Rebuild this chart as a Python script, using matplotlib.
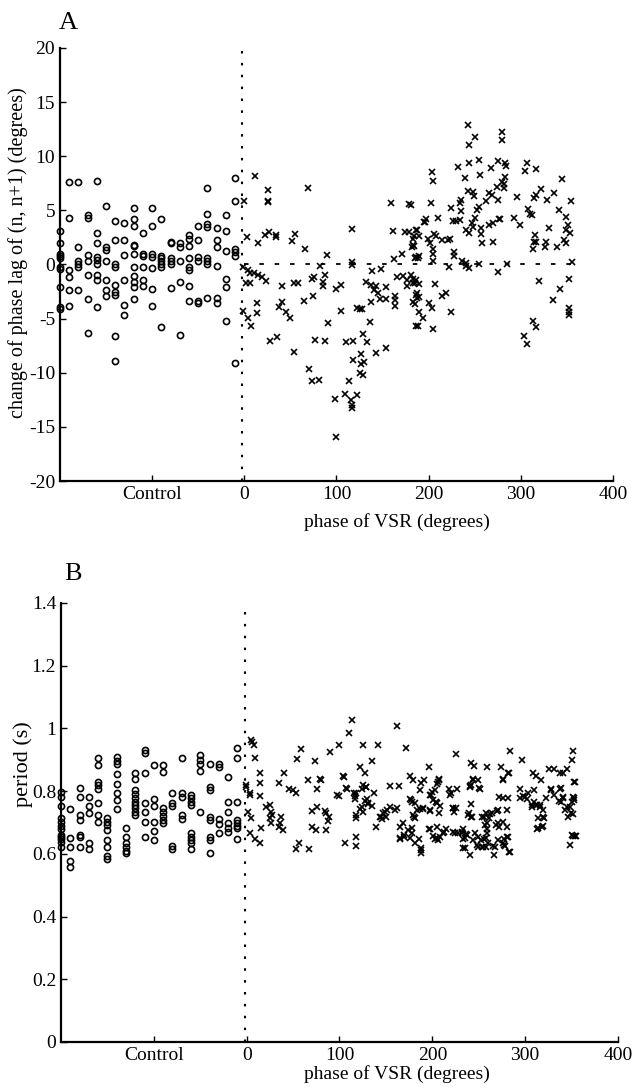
import matplotlib
matplotlib.use('Agg')
import matplotlib.pyplot as plt
import numpy as np

"""
Phase lag change (A) and period (B) against phase of VSR, with control cycles on the left
"""

# ---- panel A: control cycles (circles), x is just a column position left of 0
ctrlA = [(-190,7.6),(-180,7.6),(-160,7.7),(-40,7.1),(-10,8.0),(-10,5.9),(-150,5.4),(-120,5.2),(-100,5.2),
         (-190,4.3),(-170,4.6),(-170,4.3),(-140,4.0),(-130,3.8),(-120,4.2),(-120,3.6),(-100,3.6),(-90,4.2),
         (-40,4.7),(-20,4.6),(-50,3.6),(-40,3.7),(-40,3.5),(-30,3.4),(-20,3.1),(-200,3.1),(-160,2.9),(-110,2.9),
         (-200,2.0),(-180,1.6),(-160,2.0),(-150,1.6),(-150,1.3),(-140,2.3),(-130,2.3),(-120,1.8),(-120,1.7),
         (-80,2.1),(-80,2.0),(-70,2.0),(-70,1.6),(-60,2.7),(-60,2.4),(-60,1.7),(-50,2.3),(-30,2.3),(-30,1.6),
         (-20,1.25),(-10,1.4),(-10,1.2),(-10,0.8),(-200,1.0),(-200,0.8),(-200,0.6),(-170,0.9),(-160,0.65),
         (-160,0.4),(-130,0.9),(-120,1.0),(-110,1.0),(-110,0.8),(-100,1.0),(-100,0.65),(-90,0.8),(-90,0.6),
         (-90,0.3),(-90,0.05),(-90,-0.2),(-80,0.6),(-80,0.3),(-80,0.0),(-70,0.35),(-60,0.6),(-60,-0.2),
         (-60,-0.5),(-50,0.65),(-50,0.35),(-40,0.6),(-40,0.3),(-40,0.05),(-30,-0.15),(-200,-0.2),(-200,-0.45),
         (-190,-0.5),(-190,-1.2),(-180,0.35),(-180,0.05),(-180,-0.2),(-170,0.3),(-160,0.05),(-150,0.3),
         (-140,0.05),(-140,-0.2),(-120,-0.2),(-110,-0.2),(-100,-0.35),(-170,-1.0),(-160,-0.95),(-160,-1.4),
         (-150,-1.45),(-130,-1.4),(-120,-1.05),(-120,-1.65),(-120,-2.05),(-110,-1.4),(-110,-1.95),(-80,-2.2),
         (-70,-1.65),(-60,-2.0),(-20,-1.3),(-20,-2.1),(-200,-2.05),(-190,-2.4),(-180,-2.4),(-170,-3.2),
         (-150,-2.35),(-150,-2.9),(-140,-1.9),(-140,-2.5),(-140,-2.8),(-120,-3.2),(-100,-2.25),(-40,-3.05),
         (-50,-3.4),(-50,-3.6),(-60,-3.4),(-30,-3.05),(-30,-3.6),(-200,-3.9),(-200,-4.1),(-190,-3.8),
         (-160,-3.9),(-130,-3.75),(-100,-3.85),(-130,-4.7),(-20,-5.2),(-170,-6.3),(-140,-6.6),(-90,-5.75),
         (-70,-6.5),(-140,-8.9),(-10,-9.1)]

# ---- panel A: VSR cycles (crosses)
vsrA = [(12,8.2),(26,6.9),(69,7.1),(0,5.9),(26,5.9),(26,5.8),(159,5.65),(179,5.55),(3,2.5),(15,1.95),
        (22,2.7),(27,3.0),(34,2.7),(34,2.5),(52,2.2),(55,2.8),(66,1.4),(117,3.3),(161,3.1),(174,3.0),
        (179,3.0),(186,3.2),(184,2.6),(183,1.8),(182,1.6),(89.5,0.9),(82,-0.15),(117,0.2),(117,-0.05),
        (148.5,-0.4),(139,-0.6),(162,0.48),(171,0.95),(186,0.65),(-1,-0.2),(4,-0.5),(6,-0.8),(11,-0.8),
        (14.5,-0.95),(19,-1.2),(23,-1.5),(2,-1.75),(6,-1.75),(40.5,-1.95),(54,-1.75),(58,-1.75),(73,-1.3),
        (76,-1.2),(88,-1.0),(85,-1.65),(85,-1.95),(100,-2.25),(105,-1.9),(132,-1.6),(138,-1.9),(143,-2.0),
        (141,-2.4),(145,-2.6),(154,-2.05),(166,-1.2),(172,-1.05),(176,-1.45),(177,-2.0),(183,-1.75),
        (186,-1.4),(186,-2.8),(190,-3.0),(147,-3.2),(154,-3.2),(164,-2.95),(164,-3.3),(164,-3.85),
        (185,-3.65),(138,-3.5),(122,-4.05),(126,-4.1),(128,-4.1),(104.5,-4.25),(65,-3.4),(74,-2.95),
        (-1,-4.25),(4,-4.9),(13.5,-3.6),(13.5,-4.45),(7,-5.7),(38,-3.9),(41,-3.5),(45,-4.35),(50,-4.97),
        (90.5,-5.4),(136,-5.35),(186,-5.65),(28,-7.1),(36,-6.7),(54,-8.1),(77,-7.0),(88,-7.1),(110,-7.2),
        (118,-7.05),(129,-6.4),(133,-7.2),(143,-8.2),(154,-7.7),(118,-8.8),(127,-8.3),(130,-9.0),
        (127,-9.2),(125,-10.0),(128.5,-10.2),(70,-9.65),(73.5,-10.8),(81,-10.7),(114,-10.8),(98,-12.4),
        (109,-12.0),(122,-12.1),(116,-12.5),(117,-13.0),(117,-13.3),(99,-15.9),
        (243,12.9),(250,11.8),(244,11.0),(280,12.2),(280,11.5),(232,9.0),(244,9.35),(255,9.65),(275,9.6),
        (283,9.35),(284,9.1),(267.5,8.95),(307,9.4),(305,8.6),(317,8.8),(345,7.9),(204,8.5),(205,7.75),
        (239.5,7.95),(255.5,8.3),(283,8.1),(282,7.4),(282,7.1),(280,7.6),(274,7.2),(266,6.6),(269,6.4),
        (275,6.0),(243,6.8),(248,6.7),(249,6.3),(235,6.0),(234,5.7),(224,5.2),(255,5.35),(253,5.0),
        (262,5.9),(203,5.7),(181,5.5),(296,6.2),(314,6.1),(317,6.4),(321.5,7.0),(328,5.95),(336,6.6),
        (354,5.9),(308,5.1),(310,4.7),(312,4.6),(341,5.05),(349,4.4),(197,4.2),(195,3.9),(196,3.95),
        (210,4.3),(226,4.0),(230,4.0),(234,4.1),(235,4.9),(247,3.8),(250,4.3),(248,3.5),(257,3.35),
        (266,3.65),(270,3.8),(276,4.2),(277,4.2),(293,4.3),(299,3.65),(331,3.35),(351,3.65),(353,2.9),
        (349,3.2),(187,3.2),(189,2.6),(183,2.4),(184,1.7),(199,2.4),(202,2.0),(206,2.8),(208,2.6),
        (215,2.3),(221,2.3),(223,2.4),(241,3.2),(244,2.9),(257,2.8),(258,2.0),(270,2.1),(315,2.7),
        (314,2.1),(317,2.1),(327.5,2.1),(313,1.4),(326,1.6),(339,1.6),(347,2.3),(349,2.0),(205,1.4),
        (205,1.0),(205,0.3),(190,0.8),(185,0.6),(188,0.6),(227,1.2),(227,0.8),(222,-0.2),(236,0.3),
        (240,0.1),(241,-0.1),(244,-0.35),(255,0.05),(285.5,0.05),(275.5,-0.7),(355,0.25),(181,-0.95),
        (183,-1.3),(185,-1.75),(190,-1.8),(187,-2.65),(187,-3.1),(183,-3.5),(207,-1.8),(200,-3.6),
        (203.5,-4.05),(190,-4.35),(194,-4.9),(214,-2.95),(219,-2.6),(224,-4.35),(188,-5.7),(205,-5.95),
        (320,-1.5),(352,-1.35),(342,-2.25),(335,-3.25),(352,-4.05),(352,-4.35),(352,-4.65),(313,-5.2),
        (316,-5.75),(304,-6.65),(307,-7.3)]

# ---- panel B: control periods, by column
ctrl_cols = [-200,-190,-180,-170,-160,-150,-140,-130,-120,-110,-100,-90,-80,-70,-60,-50,-40,-30,-20,-10]
ctrl_periods = [
    [0.798,0.782,0.753,0.713,0.703,0.689,0.678,0.660,0.655,0.646,0.639,0.621],
    [0.742,0.649,0.621,0.578,0.559],
    [0.811,0.782,0.724,0.708,0.660,0.653,0.621],
    [0.782,0.753,0.731,0.633,0.614],
    [0.905,0.883,0.830,0.819,0.806,0.763,0.724,0.703],
    [0.713,0.703,0.692,0.676,0.644,0.621,0.593,0.582],
    [0.908,0.897,0.886,0.855,0.823,0.795,0.772,0.742],
    [0.681,0.653,0.633,0.623,0.610,0.602],
    [0.857,0.838,0.804,0.791,0.777,0.766,0.756,0.745,0.734,0.724],
    [0.931,0.923,0.857,0.763,0.734,0.703,0.653],
    [0.883,0.774,0.753,0.703,0.674,0.644],
    [0.883,0.862,0.745,0.734,0.721,0.708,0.697],
    [0.793,0.763,0.753,0.625,0.614],
    [0.905,0.793,0.782,0.724,0.710],
    [0.788,0.777,0.766,0.756,0.665,0.655,0.644,0.633,0.614],
    [0.915,0.899,0.886,0.865,0.734],
    [0.886,0.814,0.804,0.718,0.708,0.655,0.644,0.604],
    [0.886,0.876,0.710,0.695,0.665],
    [0.846,0.766,0.734,0.699,0.681,0.671],
    [0.936,0.905,0.766,0.708,0.699,0.689,0.681,0.646]]

# ---- panel B: VSR periods (crosses)
vsrB = [(5,0.963),(6,0.958),(7.5,0.947),(8.6,0.905),(113.5,1.027),(110,0.986),(162,1.008),(58,0.934),
        (54.6,0.904),(90,0.926),(100,0.947),(125.5,0.947),(142,0.947),(172,0.939),(74,0.896),(135.5,0.897),
        (225,0.918),(284,0.928),(297,0.899),(351,0.929),(350,0.899),(196,0.878),(242,0.889),(245,0.880),
        (259,0.878),(274.5,0.878),(122,0.878),(127,0.857),(282,0.857),(14,0.857),(14,0.825),(14,0.784),
        (40,0.857),(35,0.825),(66,0.835),(80,0.835),(105,0.846),(176,0.848),(179.5,0.835),(191,0.835),
        (207,0.837),(204.5,0.823),(308,0.859),(312,0.848),(317,0.835),(326,0.869),(331,0.869),(337,0.859),
        (341,0.859),(345,0.869),(354,0.830),(244,0.837),(249,0.837),(242,0.819),(276,0.837),(-0.4,0.814),
        (4,0.788),(46,0.806),(50,0.804),(53,0.795),(76,0.806),(97,0.788),(99.5,0.784),(108,0.806),
        (116,0.795),(124.5,0.806),(129,0.814),(137,0.795),(154,0.816),(164,0.816),(187.5,0.825),
        (186.5,0.804),(203,0.804),(199,0.788),(204,0.766),(218,0.806),(219,0.788),(227,0.806),
        (240.5,0.817),(251,0.806),(294,0.806),(300,0.782),(303.5,0.795),(309,0.803),(327.5,0.806),
        (338.5,0.809),(272,0.780),(276,0.777),(282,0.777),(353,0.772),(351,0.780),(341,0.780),(322,0.777),
        (307,0.750),(312,0.756),(316,0.750),(336,0.770),(345.5,0.750),(349,0.729),(1.4,0.734),(5,0.713),
        (21,0.750),(25,0.756),(26.6,0.734),(27.7,0.724),(25,0.713),(26.6,0.697),(37.4,0.718),(36.3,0.697),
        (39,0.676),(34.9,0.687),(15.8,0.683),(70,0.737),(76,0.748),(84,0.737),(86,0.729),(89,0.718),
        (88,0.706),(70,0.687),(74.4,0.676),(86,0.676),(118,0.724),(118,0.713),(124,0.750),(127,0.770),
        (131,0.761),(135.5,0.753),(125.5,0.734),(122,0.742),(139,0.687),(143.4,0.718),(146,0.710),
        (150,0.718),(154,0.750),(160,0.740),(161.5,0.745),(165,0.687),(168.5,0.697),(174,0.676),
        (178,0.681),(165,0.650),(170,0.655),(178,0.665),(180.4,0.718),(183,0.740),(186.5,0.742),
        (190,0.745),(176,0.774),(178.6,0.766),(181,0.634),(186,0.646),(188,0.612),(188,0.604),(197,0.738),
        (196.5,0.678),(198,0.678),(204.5,0.687),(204.5,0.650),(206,0.644),(201,0.657),(212,0.665),
        (214.5,0.678),(222,0.745),(223,0.734),(224,0.667),(228,0.667),(231.5,0.667),(233,0.678),
        (236,0.663),(235,0.650),(235,0.618),(240.5,0.596),(242,0.758),(243,0.718),(238.5,0.724),
        (246,0.665),(249.5,0.655),(252,0.644),(248,0.628),(249.5,0.621),(255,0.621),(255.5,0.716),
        (258.5,0.699),(262,0.727),(258.5,0.667),(258,0.650),(260.5,0.634),(265,0.625),(266.5,0.596),
        (270,0.738),(271,0.697),(272,0.687),(276,0.703),(280,0.740),(280,0.687),(277,0.646),(282,0.655),
        (284,0.607),(277,0.628),(314,0.713),(319.5,0.716),(318,0.687),(313,0.678),(348,0.628),(351,0.657),
        (355,0.657),(-0.3,0.819),(3.2,0.793),(3.2,0.665),(8.6,0.646),(14.7,0.633),(53.6,0.614),
        (56.4,0.636),(67.2,0.614),(105.7,0.636),(117.5,0.655),(117.5,0.625),(145,0.718),(147,0.729),
        (149,0.734),(151.5,0.740),(125.5,0.819),(128.5,0.814),(130,0.774),(131,0.759),(116.5,0.784),
        (116.5,0.774),(118,0.795),(104,0.848),(107.5,0.809),(78.7,0.838),(177.5,0.772),(181,0.761),
        (189.5,0.742),(179,0.724),(181,0.713),(197,0.788),(200,0.798),(206,0.830),(207.5,0.838),
        (201,0.772),(205,0.761),(208,0.753),(207.5,0.729),(197.5,0.740),(220,0.793),(244,0.838),
        (250.5,0.809),(240.5,0.814),(239.5,0.729),(242,0.718),(254,0.718),(258,0.729),(261,0.713),
        (264,0.729),(257,0.692),(259,0.678),(269,0.692),(271,0.740),(276.5,0.838),(283,0.859),(294,0.777),
        (298,0.784),(302,0.774),(307,0.756),(309,0.766),(312.5,0.756),(316,0.756),(319,0.740),(314,0.681),
        (319,0.689),(320,0.713),(328,0.804),(331,0.788),(337,0.806),(341,0.777),(339,0.766),(348,0.750),
        (351,0.727),(350,0.766),(353,0.777),(352.5,0.830),(354,0.657),(350,0.660),(346,0.718),(343,0.740),
        (165,0.647),(170,0.660),(176,0.649),(188,0.618),(203,0.646),(208,0.655),(213,0.671),(222.5,0.671),
        (231.5,0.671),(237,0.660),(233.5,0.646),(233.5,0.618),(244,0.644),(253,0.623),(258,0.621),
        (256,0.646),(267.5,0.623),(271,0.644),(280,0.655),(283,0.607),(278,0.625),(276.5,0.633),
        (222.5,0.745),(225.5,0.745)]

xticks = [-100, 0, 100, 200, 300, 400]
xticklabels = ['Control', '0', '100', '200', '300', '400']
yticksA = [-20, -15, -10, -5, 0, 5, 10, 15, 20]
yticksB = [0, 0.2, 0.4, 0.6, 0.8, 1.0, 1.2, 1.4]
yticklabelsB = ['0', '0.2', '0.4', '0.6', '0.8', '1', '1.2', '1.4']

plt.rcParams['font.family'] = ['Liberation Serif', 'DejaVu Serif']
plt.rcParams['axes.unicode_minus'] = False

circ = dict(ls='', marker='o', mfc='none', mec='k', ms=4.4, mew=1.2, clip_on=False)
cross = dict(ls='', marker='x', c='k', ms=4.2, mew=1.2, clip_on=False)


def SetAxes(ax, yticks, yticklabels=None):
    for s in ['top', 'right']:
        ax.spines[s].set_visible(False)
    for s in ['left', 'bottom']:
        ax.spines[s].set_linewidth(1.6)
    ax.set_xlim(-200, 400)
    ax.set_xticks(xticks)
    ax.set_xticklabels(xticklabels)
    ax.set_yticks(yticks)
    if yticklabels is not None:
        ax.set_yticklabels(yticklabels)
    ax.tick_params(direction='in', length=4, width=1, labelsize=14, pad=3.5)


fig = plt.figure(figsize=(6.36, 10.88), dpi=100, facecolor='w')

# panel A
axA = fig.add_axes([0.0943, 0.5579, 0.8695, 0.398])
cA = np.array(ctrlA)
vA = np.array(vsrA)
axA.plot(cA[:, 0], cA[:, 1], **circ)
axA.plot(vA[:, 0], vA[:, 1], **cross)
axA.plot([-3, -3], [-20, 20], c='k', lw=1.5, ls=(0, (1.2, 4.5)))
axA.plot([0, 360], [0, 0], c='k', lw=1.3, ls=(0, (2.5, 6)))
SetAxes(axA, yticksA)
axA.set_ylim(-20, 20)
axA.set_ylabel('change of phase lag of (n, n+1) (degrees)', fontsize=14.5)
axA.yaxis.set_label_coords(-0.058, 0.527)
axA.set_xlabel('phase of VSR (degrees)', fontsize=14)
axA.xaxis.set_label_coords(0.609, -0.074)
fig.text(0.108, 0.979, 'A', fontsize=19, ha='center', va='center')

# panel B
axB = fig.add_axes([0.0959, 0.0423, 0.8758, 0.4035])
for xc, ps in zip(ctrl_cols, ctrl_periods):
    axB.plot([xc] * len(ps), ps, **circ)
vB = np.array(vsrB)
axB.plot(vB[:, 0], vB[:, 1], **cross)
axB.plot([-2, -2], [0, 1.37], c='k', lw=1.5, ls=(0, (1.2, 4.5)))
SetAxes(axB, yticksB, yticklabelsB)
axB.set_ylim(0, 1.4)
axB.set_ylabel('period (s)', fontsize=16)
axB.yaxis.set_label_coords(-0.05, 0.633)
axB.set_xlabel('phase of VSR (degrees)', fontsize=14)
axB.xaxis.set_label_coords(0.603, -0.052)
fig.text(0.115, 0.472, 'B', fontsize=19, ha='center', va='center')

fig.savefig('out.png', dpi=100, facecolor='w')
